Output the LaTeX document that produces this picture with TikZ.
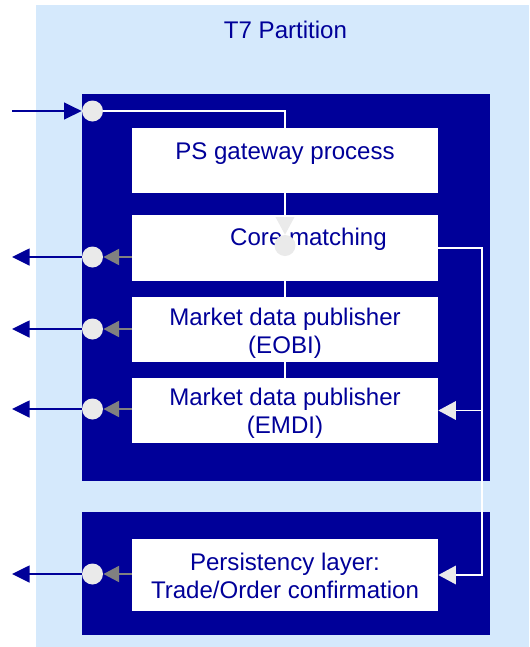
\documentclass[tikz,border=0pt]{standalone}
\usepackage{fontspec}
\setmainfont{Liberation Sans}
\usetikzlibrary{arrows.meta,positioning}
\definecolor{tsevenDark}{RGB}{0,0,153}
\definecolor{tsevenLight}{RGB}{213,233,252}
\definecolor{tsevenPort}{RGB}{234,234,234}
\definecolor{tsevenGrey}{RGB}{128,128,128}
\newcommand{\tsfont}{\fontsize{13.7}{16.2}\selectfont}

\begin{document}
\begin{tikzpicture}[x=0.02cm, y=-0.02cm,
    part/.style={rectangle, fill=tsevenLight, inner sep=0pt,
                 minimum width=9.86cm, minimum height=12.84cm},
    host/.style={rectangle, fill=tsevenDark, inner sep=0pt, minimum width=8.16cm},
    proc/.style={rectangle, fill=white, inner sep=0pt, minimum width=6.12cm,
                 minimum height=1.3cm},
    lbl/.style={inner sep=0pt, anchor=base, align=center, text=tsevenDark, font=\tsfont},
    port/.style={circle, fill=tsevenPort, inner sep=0pt, minimum size=0.42cm},
    outarr/.style={-{Triangle[length=10pt, width=9.5pt]}, tsevenDark, line width=1.3pt},
    feed/.style={-{Triangle[length=9pt, width=9pt]}, tsevenGrey, line width=1.6pt},
    flow/.style={white, line width=1.1pt},
    flowarr/.style={flow, -{Triangle[length=10pt, width=10.5pt, color=tsevenPort]}}
  ]
  \useasboundingbox (0,0) rectangle (529,647);

  % containers
  \node[part] (partition) at (282.5,326) {};
  \node[lbl] (ptitle) at (285.5,38.5) {T7 Partition};
  \node[host, minimum height=7.74cm] (engine) at (286,287.5) {};
  \node[host, minimum height=2.46cm] (store) at (286,573.5) {};

  % ports
  \node[port] (pin)   at (92.5,111) {};
  \node[port] (pcore) at (92.5,257) {};
  \node[port] (peobi) at (92.5,329) {};
  \node[port] (pemdi) at (92.5,409) {};
  \node[port] (ppers) at (92.5,574) {};

  \coordinate (matchpt) at (285,245.5);
  \coordinate (emditop) at (285,378);
  \draw[flow] (pin) -| (matchpt);
  \draw[flow] (matchpt) -- (emditop);

  % processes
  \node[proc] (gw)   at (285,160.5) {};
  \node[proc, minimum height=1.32cm] (core) at (285,248) {};
  \node[proc] (eobi) at (285,329.5) {};
  \node[proc] (emdi) at (285,410.5) {};
  \node[proc, minimum height=1.44cm] (persist) at (285,575) {};
  \node[lbl] (gwtext) at (285,159) {PS gateway process};
  \node[lbl] (coretext) at (308.5,245) {Core matching};
  \node[lbl] (eobitext) at (285,353.5) {Market data publisher\\(EOBI)};
  \node[lbl] (emditext) at (285,433.5) {Market data publisher\\(EMDI)};
  \node[lbl] (perstext) at (285,598.5) {Persistency layer:\\Trade/Order confirmation};

  \node[port] (pmatch) at (matchpt) {};
  \draw[flowarr] (gw) -- (pmatch);

  % loop to EMDI and persistency
  \coordinate (bus) at (482,575);
  \draw[flowarr] (core.east) -| (bus) -- (persist.east);
  \draw[flowarr] (bus |- emdi.east) -- (emdi.east);

  % feeds to the ports
  \draw[feed] (core.west |- pcore) -- (pcore);
  \draw[feed] (eobi.west |- peobi) -- (peobi);
  \draw[feed] (emdi.west |- pemdi) -- (pemdi);
  \draw[feed] (persist.west |- ppers) -- (ppers);

  % external lines
  \coordinate (xin)   at (12,111);
  \coordinate (xcore) at (12,257);
  \coordinate (xeobi) at (12,329);
  \coordinate (xemdi) at (12,409);
  \coordinate (xpers) at (12,574);
  \draw[outarr] (xin) -- (pin);
  \draw[outarr] (pcore) -- (xcore);
  \draw[outarr] (peobi) -- (xeobi);
  \draw[outarr] (pemdi) -- (xemdi);
  \draw[outarr] (ppers) -- (xpers);
\end{tikzpicture}
\end{document}
